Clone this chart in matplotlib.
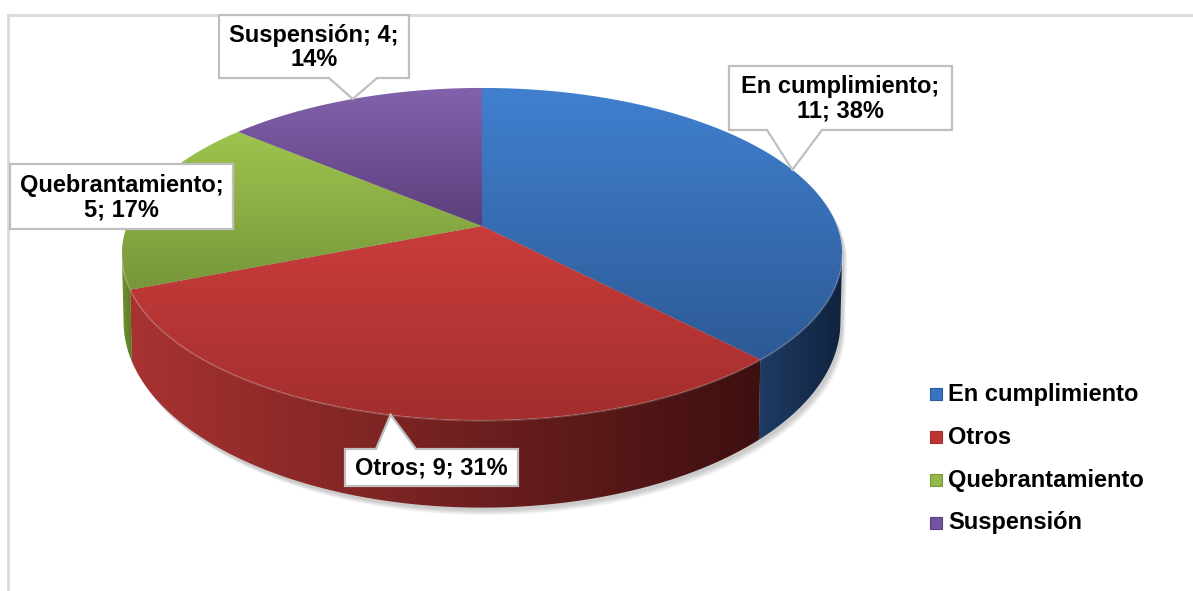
import numpy as np
import matplotlib.pyplot as plt
from matplotlib.patches import Polygon, Rectangle
from matplotlib.colors import LinearSegmentedColormap

# data
labels = ['En cumplimiento', 'Otros', 'Quebrantamiento', 'Suspensión']
values = [11, 9, 5, 4]
# where the data label text wraps (number of "; "-separated parts on line 1)
label_break = [1, 3, 1, 2]

# colours
top_light = ['#4080CF', '#C93D3C', '#9EC44E', '#8262AC']
top_dark = ['#2D5A96', '#A22E2D', '#76963A', '#5C3E7C']
side_light = ['#1F3B63', '#A83332', '#6F9230', '#4E3468']
side_dark = ['#10233F', '#3E0F0F', '#5A7A26', '#3A254F']
legend_colors = ['#3A73BE', '#BE3534', '#93B847', '#7454A0']

plt.rcParams['font.family'] = ['Liberation Sans', 'DejaVu Sans']

W, H = 1193, 591
fig = plt.figure(figsize=(W / 100, H / 100), dpi=100)
ax = fig.add_axes([0, 0, 1, 1])
ax.axis('off')

# perspective projection of the unit circle to the pie's top face
cx, cy = 482, 226
k = 355
pa, pc = -123.2, 0.169
depth = 65


def proj(t, bottom=False):
    u, v = np.cos(t), np.sin(t)
    s = 1 + pc * v
    x = cx + k * u / s
    y = (pa * v + cy) / s
    if bottom:
        # nearer parts of the wall look taller
        y = y + depth / s ** 1.6
        x = cx + (x - cx) * 0.995
    return x, y


def shade(verts, c1, c2, horizontal=False, z=1):
    poly = Polygon(verts, closed=True, facecolor='none', edgecolor='none', zorder=z)
    ax.add_patch(poly)
    x0, y0 = verts.min(axis=0)
    x1, y1 = verts.max(axis=0)
    g = np.linspace(0, 1, 256)
    g = g.reshape(1, -1) if horizontal else g.reshape(-1, 1)
    cmap = LinearSegmentedColormap.from_list('g', [c1, c2])
    im = ax.imshow(g, cmap=cmap, extent=(x0, x1, y1, y0), origin='upper',
                   aspect='auto', interpolation='bilinear', zorder=z)
    im.set_clip_path(poly)


vals = np.array(values, dtype=float)
total = vals.sum()
pcts = np.round(vals / total * 100).astype(int)
edges = np.pi / 2 - 2 * np.pi * np.concatenate([[0], np.cumsum(vals) / total])

tR = -np.arcsin(pc)
tL = -np.pi + np.arcsin(pc)

# soft shadow below the pie
back = np.linspace(tR, tL + 2 * np.pi, 200)
front = np.linspace(tL, tR, 200)
bx, by = proj(back)
fx, fy = proj(front, bottom=True)
sil = np.column_stack([np.concatenate([bx, fx]), np.concatenate([by, fy])])
for i in range(6):
    ax.add_patch(Polygon(sil + [2 + i * 0.6, 3 + i * 0.9], closed=True,
                         facecolor='#000000', edgecolor='none', alpha=0.035, zorder=0))

# side walls
for i in range(len(vals)):
    a0, a1 = edges[i], edges[i + 1]
    lo, hi = a1, a0
    while hi > tR + 1e-9 and lo > tR:
        lo -= 2 * np.pi
        hi -= 2 * np.pi
    lo2, hi2 = max(lo, tL), min(hi, tR)
    if hi2 <= lo2:
        lo, hi = lo + 2 * np.pi, hi + 2 * np.pi
        lo2, hi2 = max(lo, tL), min(hi, tR)
    if hi2 <= lo2:
        continue
    t = np.linspace(lo2, hi2, 120)
    x1, y1 = proj(t)
    x2, y2 = proj(t[::-1], bottom=True)
    verts = np.column_stack([np.concatenate([x1, x2]), np.concatenate([y1, y2])])
    shade(verts, side_light[i], side_dark[i], horizontal=True, z=1)

# top faces
for i in range(len(vals)):
    t = np.linspace(edges[i], edges[i + 1], 200)
    x, y = proj(t)
    verts = np.column_stack([np.concatenate([[cx], x]), np.concatenate([[cy], y])])
    shade(verts, top_light[i], top_dark[i], z=2)

# light rim along the front edge of the top
t = np.linspace(tL, tR, 300)
rx, ry = proj(t)
ax.plot(rx, ry + 0.5, color='#FFFFFF', alpha=0.18, lw=1.2, zorder=3)

# data label callouts
boxes = [(729, 66, 952, 130), (345, 449, 518, 486), (10, 164, 233, 229), (219, 15, 409, 78)]
bases = [(767, 822), (376, 416), None, (329, 377)]
for i in range(len(vals)):
    x0, y0, x1, y1 = boxes[i]
    mid = (edges[i] + edges[i + 1]) / 2
    tx, ty = proj(mid)
    if bases[i] is None:
        pts = [(x0, y0), (x1, y0), (x1, y1), (x0, y1)]
    elif ty > y1:
        b0, b1 = bases[i]
        pts = [(x0, y0), (x1, y0), (x1, y1), (b1, y1), (tx, ty), (b0, y1), (x0, y1)]
    else:
        b0, b1 = bases[i]
        pts = [(x0, y0), (b0, y0), (tx, ty), (b1, y0), (x1, y0), (x1, y1), (x0, y1)]
    ax.add_patch(Polygon(pts, closed=True, facecolor='white', edgecolor='#BFBFBF',
                         lw=1.6, zorder=5))
    parts = [labels[i], str(values[i]), f'{pcts[i]}%']
    nb = label_break[i]
    l1 = '; '.join(parts[:nb]) + (';' if nb < 3 else '')
    l2 = '; '.join(parts[nb:])
    txt = l1 if not l2 else l1 + '\n' + l2
    ax.text((x0 + x1) / 2, (y0 + y1) / 2 + 1, txt, ha='center', va='center',
            fontsize=17, fontweight='bold', color='black', linespacing=1.1, zorder=6)

# legend
for i, name in enumerate(labels):
    ly = 394 + i * 43
    ax.add_patch(Rectangle((930, ly - 6), 12, 12, facecolor=legend_colors[i],
                           edgecolor=top_dark[i], lw=0.8, zorder=5))
    ax.text(948, ly, name, ha='left', va='center', fontsize=17,
            fontweight='bold', color='black', zorder=6)

# chart area frame
ax.plot([8, W], [15, 15], color='#D9D9D9', lw=2, zorder=0)
ax.plot([8, 8], [15, H], color='#D9D9D9', lw=2, zorder=0)

ax.set_xlim(0, W)
ax.set_ylim(H, 0)
fig.savefig('out.png', dpi=100)
